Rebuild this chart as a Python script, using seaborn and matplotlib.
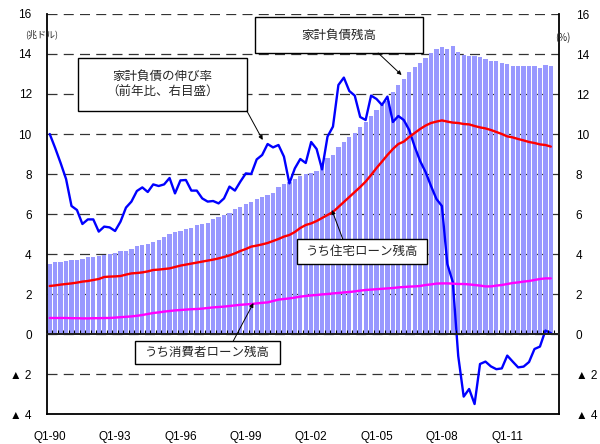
import matplotlib
matplotlib.use("Agg")
import matplotlib.pyplot as plt
import seaborn as sns
import numpy as np
import pandas as pd

# quarters Q1-1990 .. Q1-2013
years = list(range(1990, 2014))
quarters = [f"Q{q}-{str(y)[2:]}" for y in years for q in range(1, 5)][:93]

# household debt outstanding (trillion $, bars)
debt_total = [3.50, 3.58, 3.62, 3.66, 3.68, 3.68, 3.77, 3.83, 3.87, 3.90,
              3.93, 4.02, 4.05, 4.13, 4.15, 4.25, 4.40, 4.45, 4.52, 4.60,
              4.70, 4.85, 5.00, 5.10, 5.15, 5.23, 5.32, 5.45, 5.50, 5.57,
              5.73, 5.83, 5.95, 6.03, 6.23, 6.37, 6.50, 6.62, 6.73, 6.87,
              6.95, 7.07, 7.37, 7.50, 7.62, 7.73, 7.88, 8.02, 8.07, 8.15,
              8.55, 8.78, 8.95, 9.33, 9.62, 9.87, 10.07, 10.37, 10.62, 10.90,
              11.20, 11.45, 11.67, 12.10, 12.45, 12.75, 13.10, 13.37, 13.53, 13.78,
              14.05, 14.23, 14.33, 14.23, 14.40, 14.10, 13.95, 13.92, 13.92, 13.83,
              13.73, 13.67, 13.63, 13.53, 13.48, 13.40, 13.40, 13.40, 13.40, 13.40,
              13.30, 13.47, 13.40]

# growth rate of household debt (% yoy, right scale)
debt_growth = [10.0, 9.3, 8.55, 7.75, 6.4, 6.2, 5.5, 5.73, 5.73, 5.12,
               5.37, 5.33, 5.15, 5.62, 6.32, 6.62, 7.15, 7.33, 7.1, 7.48,
               7.4, 7.48, 7.8, 7.03, 7.68, 7.7, 7.17, 7.17, 6.78, 6.62,
               6.65, 6.53, 6.78, 7.37, 7.17, 7.62, 8.03, 8.0, 8.73, 8.95,
               9.5, 9.33, 9.45, 8.87, 7.53, 8.28, 8.75, 8.55, 9.6, 9.25,
               8.23, 9.87, 10.37, 12.45, 12.82, 12.15, 11.92, 10.85, 10.7, 11.92,
               11.75, 11.45, 11.87, 10.6, 10.9, 10.7, 10.2, 9.37, 8.65, 8.1,
               7.4, 6.75, 6.4, 3.5, 2.6, -1.1, -3.13, -2.75, -3.5, -1.5,
               -1.38, -1.62, -1.76, -1.72, -1.08, -1.38, -1.67, -1.63, -1.4, -0.75,
               -0.63, 0.17, 0.05]

# home mortgages outstanding
mortgage = [2.40, 2.43, 2.47, 2.50, 2.53, 2.57, 2.62, 2.65, 2.70, 2.75,
            2.85, 2.87, 2.88, 2.90, 2.97, 3.03, 3.05, 3.08, 3.13, 3.20,
            3.22, 3.25, 3.28, 3.35, 3.42, 3.47, 3.52, 3.57, 3.62, 3.67,
            3.72, 3.78, 3.85, 3.93, 4.03, 4.15, 4.25, 4.37, 4.42, 4.48,
            4.55, 4.65, 4.75, 4.87, 4.95, 5.10, 5.30, 5.45, 5.53, 5.65,
            5.80, 5.95, 6.10, 6.35, 6.60, 6.85, 7.10, 7.35, 7.62, 7.95,
            8.30, 8.62, 8.95, 9.25, 9.50, 9.62, 9.85, 10.05, 10.25, 10.42,
            10.55, 10.62, 10.68, 10.62, 10.57, 10.55, 10.50, 10.48, 10.40, 10.33,
            10.28, 10.20, 10.10, 10.00, 9.88, 9.83, 9.75, 9.68, 9.60, 9.55,
            9.48, 9.45, 9.37]

# consumer credit outstanding
consumer = [0.80, 0.80, 0.80, 0.80, 0.79, 0.79, 0.78, 0.78, 0.79, 0.79,
            0.80, 0.80, 0.82, 0.84, 0.86, 0.88, 0.91, 0.95, 1.00, 1.05,
            1.08, 1.12, 1.15, 1.18, 1.20, 1.22, 1.24, 1.25, 1.27, 1.30,
            1.33, 1.35, 1.37, 1.40, 1.43, 1.46, 1.48, 1.50, 1.53, 1.56,
            1.58, 1.65, 1.72, 1.75, 1.78, 1.82, 1.87, 1.90, 1.93, 1.95,
            1.98, 2.00, 2.03, 2.05, 2.08, 2.10, 2.13, 2.17, 2.20, 2.22,
            2.24, 2.26, 2.28, 2.30, 2.33, 2.35, 2.37, 2.38, 2.40, 2.45,
            2.48, 2.52, 2.53, 2.53, 2.52, 2.50, 2.50, 2.48, 2.45, 2.42,
            2.38, 2.38, 2.42, 2.45, 2.50, 2.55, 2.58, 2.62, 2.65, 2.70,
            2.75, 2.78, 2.78]

xtick_labels = ["Q1-90", "Q1-93", "Q1-96", "Q1-99", "Q1-02", "Q1-05", "Q1-08", "Q1-11"]
yticks = list(range(-4, 17, 2))
ytick_labels = [f"▲ {abs(t)}" if t < 0 else str(t) for t in yticks]

df = pd.DataFrame({"quarter": quarters, "total": debt_total, "growth": debt_growth,
                   "mortgage": mortgage, "consumer": consumer})
df["pos"] = np.arange(len(df))

sns.set_theme(style="white")
plt.rcParams["font.family"] = ["Liberation Sans", "Noto Sans CJK JP"]
jp = ["Noto Sans CJK JP", "DejaVu Sans"]

fig = plt.figure(figsize=(6, 4.44), dpi=100)
ax = fig.add_axes([47 / 600, 1 - 414 / 444, 512 / 600, 400 / 444])

sns.barplot(data=df, x="quarter", y="total", color="#9999FF", saturation=1,
            width=0.78, linewidth=0, edgecolor="none", ax=ax, zorder=2)
sns.lineplot(data=df, x="pos", y="growth", color="#0000FF", lw=1.7, ax=ax, zorder=4)
sns.lineplot(data=df, x="pos", y="mortgage", color="#FF0000", lw=1.7, ax=ax, zorder=4)
sns.lineplot(data=df, x="pos", y="consumer", color="#FF00FF", lw=1.7, ax=ax, zorder=4)

ax.set_xlim(-0.5, len(df) + 0.5)
ax.set_ylim(-4, 16)
ax.set_xlabel("")
ax.set_ylabel("")
ax.set_xticks(df["pos"][::12])
ax.set_xticklabels(xtick_labels, fontsize=8.5)
ax.set_yticks(yticks)
ax.set_yticklabels(ytick_labels, fontsize=8.5)
ax.tick_params(axis="both", length=0, colors="black")
ax.tick_params(axis="x", pad=12)
ax.tick_params(axis="y", pad=11)

ax.set_axisbelow(True)
ax.yaxis.grid(True, ls=(0, (8, 5)), color="#333333", lw=0.9)
ax.xaxis.grid(False)
for s in ["left", "right", "bottom"]:
    ax.spines[s].set_color("black")
    ax.spines[s].set_linewidth(1.3)
ax.spines["top"].set_visible(False)

# zero line with small tick marks
ax.axhline(0, color="black", lw=1.3, zorder=5)
sec = ax.secondary_xaxis(0.2)
sec.set_xticks(np.arange(len(df) + 1) - 0.5)
sec.tick_params(direction="in", length=3, width=0.8, labelbottom=False, colors="black")
sec.spines["bottom"].set_linewidth(1.3)
sec.set_zorder(5)

ax2 = ax.twinx()
ax2.set_ylim(-4, 16)
ax2.set_yticks(yticks)
ax2.set_yticklabels(ytick_labels, fontsize=8.5)
ax2.tick_params(axis="y", length=0, pad=12, colors="black")
for s in ax2.spines.values():
    s.set_visible(False)

fig.text(25 / 600, 1 - 34 / 444, "(兆ドル)", fontsize=6.5, family=jp, va="center")
fig.text(563 / 600, 1 - 38 / 444, "(%)", fontsize=7, family=jp, va="center", ha="center")

arrow = dict(arrowstyle="-|>", color="black", lw=0.7, mutation_scale=6, shrinkA=0, shrinkB=0)


def label_box(x0, x1, y0, y1, text, tip, start):
    ax.add_patch(plt.Rectangle((x0, y0), x1 - x0, y1 - y0, fc="white", ec="black",
                               lw=1, zorder=6))
    ax.text((x0 + x1) / 2, (y0 + y1) / 2, text, ha="center", va="center",
            fontsize=9, family=jp, zorder=7, linespacing=1.3)
    ax.annotate("", xy=tip, xytext=start, arrowprops=arrow, zorder=7)


label_box(5.2, 36.2, 11.15, 13.8, "家計負債の伸び率\n（前年比、右目盛）", (39.1, 9.7), (36.2, 11.15))
label_box(37.7, 68.5, 14.05, 15.85, "家計負債残高", (64.6, 12.95), (60.3, 14.05))
label_box(45.4, 69.3, 3.5, 4.75, "うち住宅ローン残高", (51.8, 6.2), (53.8, 4.75))
label_box(15.7, 42.3, -1.5, -0.35, "うち消費者ローン残高", (37.4, 1.55), (33.7, -0.35))

fig.savefig("out.png", dpi=100)
